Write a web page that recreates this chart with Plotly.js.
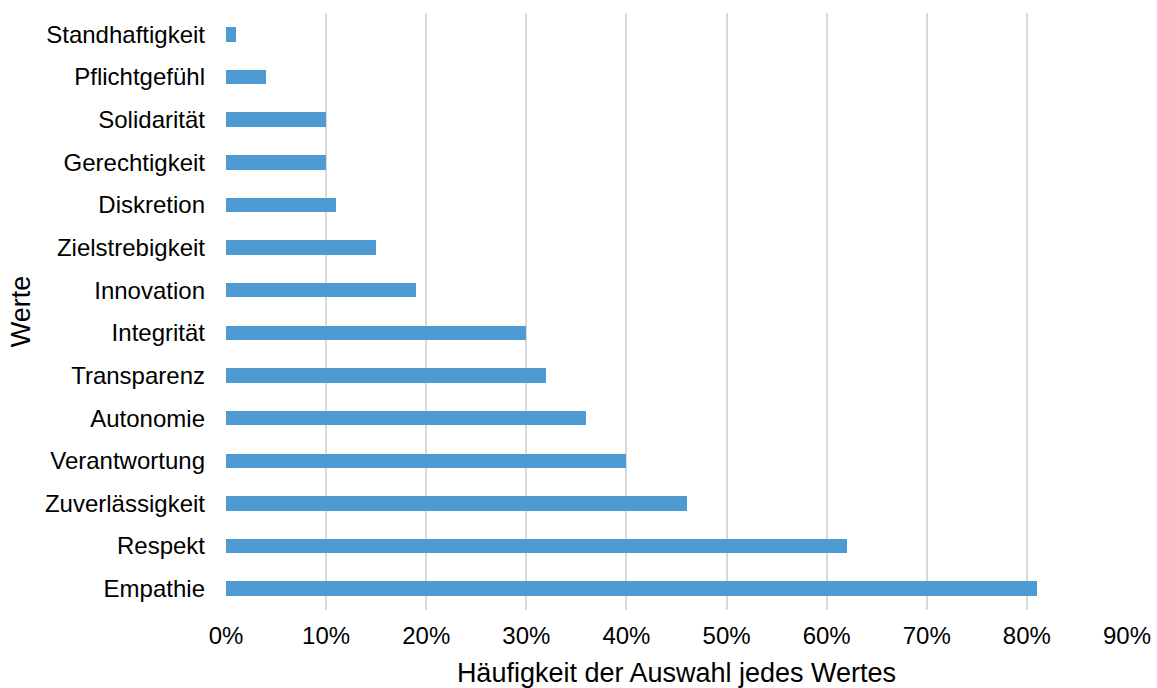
<!DOCTYPE html>
<html>
<head>
<meta charset="utf-8">
<script src="https://cdn.plot.ly/plotly-3.0.1.min.js"></script>
<style>
  html, body { margin: 0; padding: 0; background: #fff; }
  #chart { width: 1157px; height: 688px; }
</style>
</head>
<body>
<div id="chart"></div>
<script>
// Werte, top to bottom as listed on the axis
const werte = [
  "Standhaftigkeit", "Pflichtgefühl", "Solidarität", "Gerechtigkeit",
  "Diskretion", "Zielstrebigkeit", "Innovation", "Integrität",
  "Transparenz", "Autonomie", "Verantwortung", "Zuverlässigkeit",
  "Respekt", "Empathie"
];
// Share of respondents choosing each value (fraction)
const anteil = [
  0.01, 0.04, 0.10, 0.10,
  0.11, 0.15, 0.19, 0.30,
  0.32, 0.36, 0.40, 0.46,
  0.62, 0.81
];
const xTicks = [0, 0.1, 0.2, 0.3, 0.4, 0.5, 0.6, 0.7, 0.8, 0.9];

const font = "Liberation Sans, Arial, sans-serif";

Plotly.newPlot("chart", [{
  type: "bar",
  orientation: "h",
  x: anteil,
  y: werte,
  width: 0.34,
  marker: { color: "#4e9bd4", line: { width: 0 } },
  hoverinfo: "x+y"
}], {
  width: 1157,
  height: 688,
  margin: { l: 226, r: 30, t: 13, b: 78 },
  paper_bgcolor: "#fff",
  plot_bgcolor: "#fff",
  showlegend: false,
  font: { family: font, color: "#000", size: 24 },
  xaxis: {
    range: [0, 0.9],
    tickvals: xTicks,
    tickformat: ".0%",
    showgrid: true,
    gridcolor: "#d9d9d9",
    gridwidth: 2,
    zeroline: false,
    showline: false,
    ticks: "",
    ticklabelstandoff: 9,
    tickfont: { size: 24 },
    title: { text: "Häufigkeit der Auswahl jedes Wertes", font: { size: 27 }, standoff: 18 }
  },
  yaxis: {
    categoryorder: "array",
    categoryarray: werte.slice().reverse(),
    autorange: true,
    showgrid: false,
    zeroline: false,
    showline: false,
    ticks: "",
    ticklabelstandoff: 20,
    tickfont: { size: 24 },
    title: { text: "Werte", font: { size: 27 }, standoff: 6 }
  },
  bargap: 0
}, { displayModeBar: false, staticPlot: true });
</script>
</body>
</html>
